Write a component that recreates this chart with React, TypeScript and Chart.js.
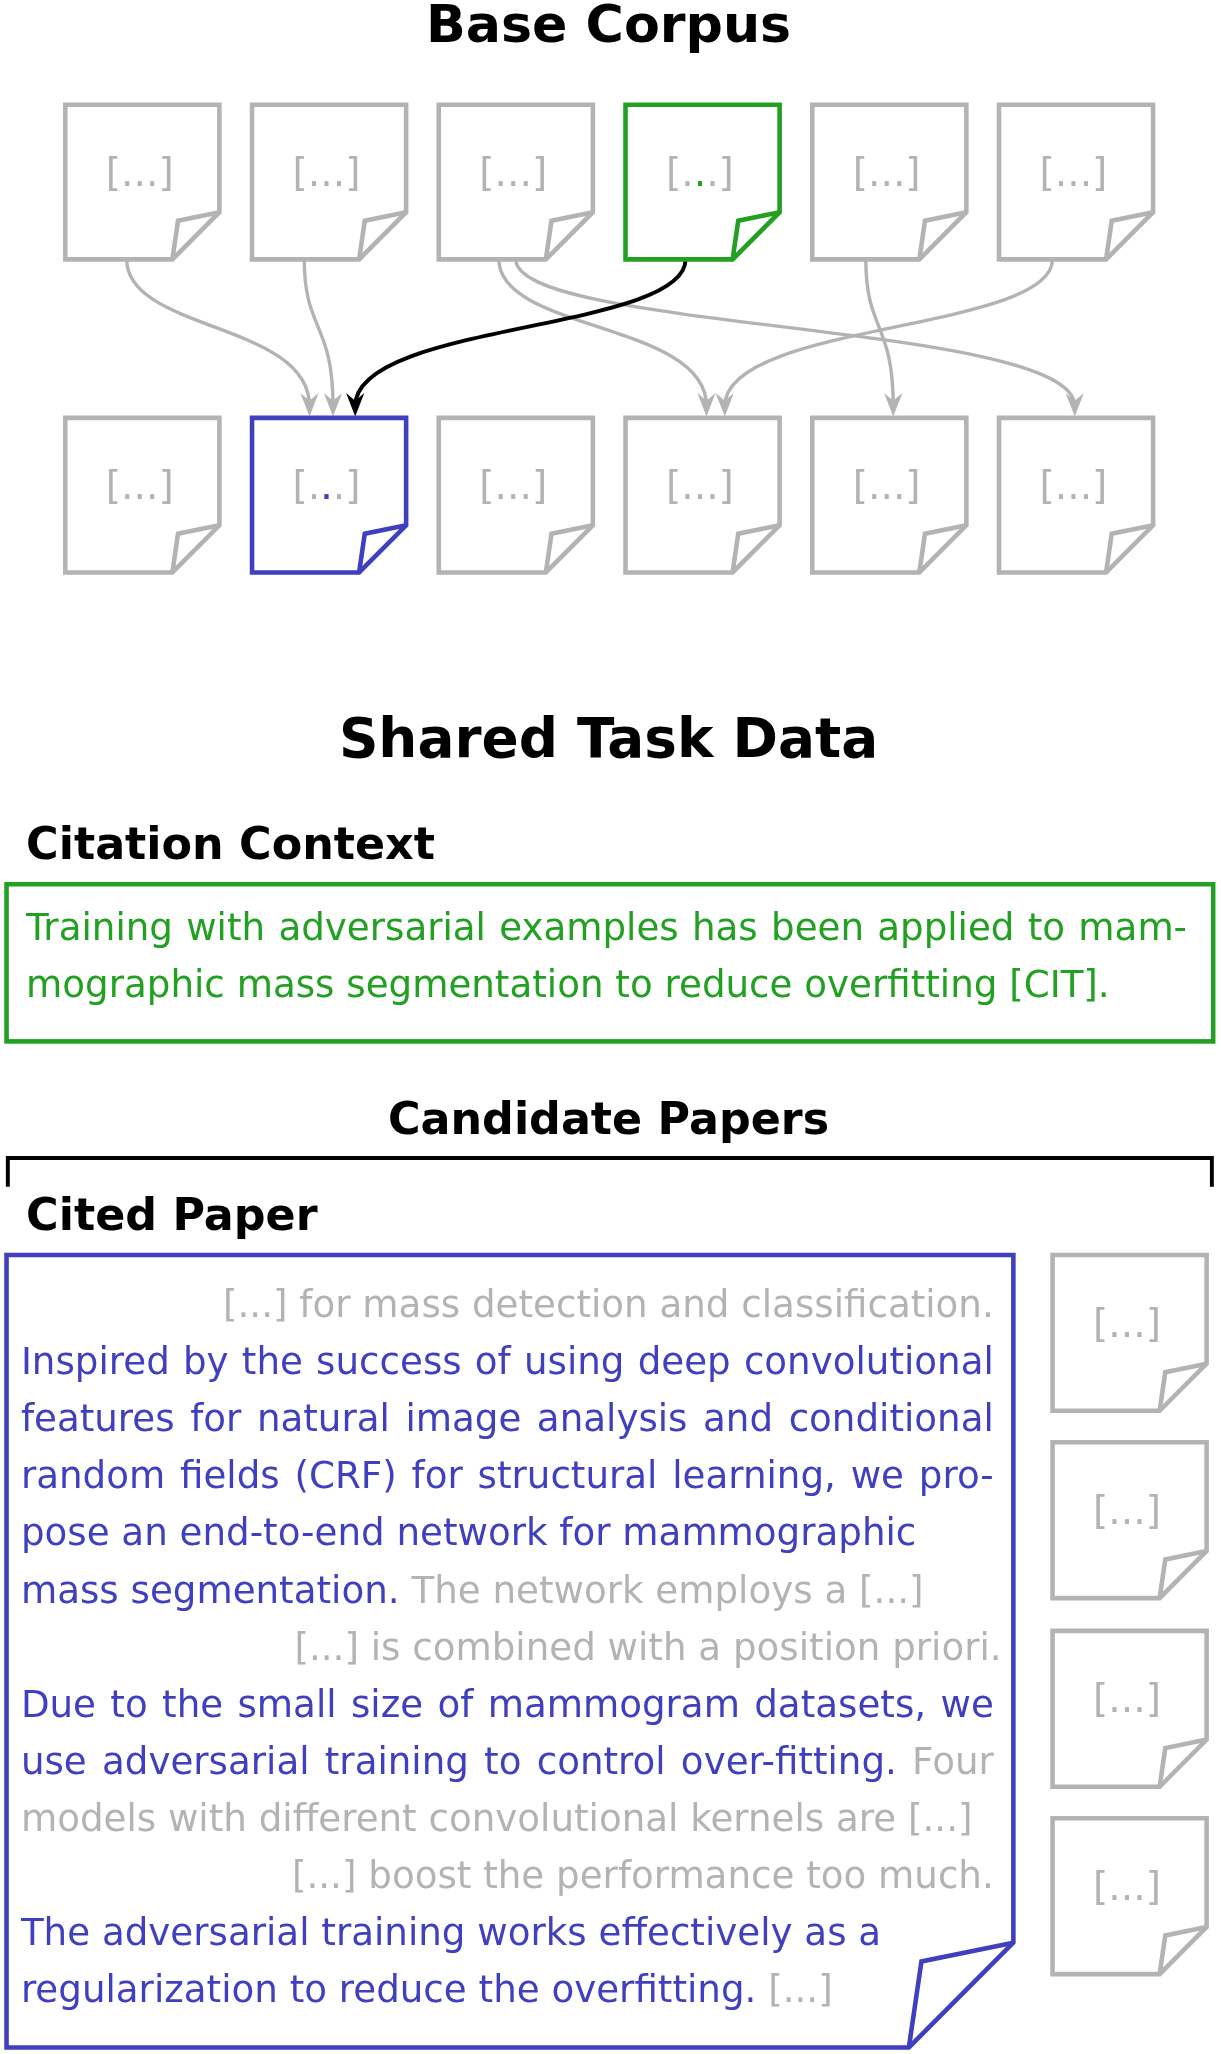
import React, { useEffect, useRef } from "react";
import { Chart, registerables } from "chart.js";
Chart.register(...registerables);

// diagram space: 935 x 1568 (scaled to canvas)
const GRAY = "#b3b3b3";
const GREEN = "#22a022";
const BLUE = "#3f3fbf";

const topDocX = [50, 193, 336, 479, 622, 765];
const topDocColors = [GRAY, GRAY, GRAY, GREEN, GRAY, GRAY];
const bottomDocX = [50, 193, 336, 479, 622, 765];
const bottomDocColors = [GRAY, BLUE, GRAY, GRAY, GRAY, GRAY];
const sideDocY = [958, 1101, 1245, 1388];

// arrows: [x1, x2, color]
const arrowFrom = [97, 233, 382, 395, 525, 663, 806];
const arrowTo = [237, 255, 541, 823, 272, 684, 555];
const arrowColor = [GRAY, GRAY, GRAY, GRAY, "#000", GRAY, GRAY];

type Seg = [string, string];
const contextLines: { segs: Seg[]; align: string }[] = [
  { segs: [["Training with adversarial examples has been applied to mam-", GREEN]], align: "justify" },
  { segs: [["mographic mass segmentation to reduce overfitting [CIT].", GREEN]], align: "left" },
];
const paperLines: { segs: Seg[]; align: string }[] = [
  { segs: [["[...] for mass detection and classification.", GRAY]], align: "right" },
  { segs: [["Inspired by the success of using deep convolutional", BLUE]], align: "justify" },
  { segs: [["features for natural image analysis and conditional", BLUE]], align: "justify" },
  { segs: [["random fields (CRF) for structural learning, we pro-", BLUE]], align: "justify" },
  { segs: [["pose an end-to-end network for mammographic", BLUE]], align: "left" },
  { segs: [["mass segmentation.", BLUE], ["The network employs a [...]", GRAY]], align: "left" },
  { segs: [["[...] is combined with a position priori.", GRAY]], align: "right2" },
  { segs: [["Due to the small size of mammogram datasets, we", BLUE]], align: "justify" },
  { segs: [["use adversarial training to control over-fitting.", BLUE], ["Four", GRAY]], align: "justify" },
  { segs: [["models with different convolutional kernels are [...]", GRAY]], align: "left" },
  { segs: [["[...] boost the performance too much.", GRAY]], align: "right" },
  { segs: [["The adversarial training works effectively as a", BLUE]], align: "left" },
  { segs: [["regularization to reduce the overfitting.", BLUE], ["[...]", GRAY]], align: "left" },
];

const FONT = "'DejaVu Sans', sans-serif";

export default function App() {
  const ref = useRef<HTMLCanvasElement>(null);
  useEffect(() => {
    document.body.style.margin = "0";
    const plugin = {
      id: "diagram",
      afterDatasetsDraw(chart: any) {
        const ctx: CanvasRenderingContext2D = chart.ctx;
        const xs = chart.scales.x, ys = chart.scales.y;
        const X = (v: number) => xs.getPixelForValue(v);
        const Y = (v: number) => ys.getPixelForValue(v);
        const s = (X(935) - X(0)) / 935;
        ctx.save();
        const font = (size: number, bold = false) =>
          (ctx.font = `${bold ? "bold " : ""}${size * s}px ${FONT}`);

        const doc = (x: number, y: number, w: number, h: number, f: number, col: string, inner: boolean) => {
          ctx.strokeStyle = col;
          ctx.lineWidth = 3.5 * s;
          ctx.lineJoin = "miter";
          ctx.beginPath();
          ctx.moveTo(X(x), Y(y));
          ctx.lineTo(X(x + w), Y(y));
          ctx.lineTo(X(x + w), Y(y + h - f));
          ctx.lineTo(X(x + w - f), Y(y + h));
          ctx.lineTo(X(x), Y(y + h));
          ctx.closePath();
          ctx.fillStyle = "#fff";
          ctx.fill();
          ctx.stroke();
          ctx.beginPath();
          ctx.moveTo(X(x + w - f), Y(y + h));
          ctx.lineTo(X(x + w - f + f * 0.12), Y(y + h - f * 0.82));
          ctx.lineTo(X(x + w), Y(y + h - f));
          ctx.stroke();
          if (inner) {
            font(30);
            ctx.fillStyle = GRAY;
            ctx.textAlign = "center";
            ctx.textBaseline = "middle";
            ctx.fillText("[...]", X(x + w / 2 - 2), Y(y + h / 2 - 5));
            if (col !== GRAY) {
              ctx.fillStyle = col;
              ctx.fillText(".", X(x + w / 2 - 2), Y(y + h / 2 - 5));
            }
          }
        };

        // arrows
        arrowFrom.forEach((x1, i) => {
          const x2 = arrowTo[i];
          const y1 = 198, y2 = 316;
          ctx.strokeStyle = arrowColor[i];
          ctx.lineWidth = (arrowColor[i] === "#000" ? 3 : 2.6) * s;
          ctx.beginPath();
          ctx.moveTo(X(x1), Y(y1));
          ctx.bezierCurveTo(X(x1), Y(y1 + 55), X(x2), Y(y2 - 70), X(x2), Y(y2 - 6));
          ctx.stroke();
          ctx.fillStyle = arrowColor[i];
          ctx.beginPath();
          ctx.moveTo(X(x2), Y(y2 + 2));
          ctx.lineTo(X(x2 - 7), Y(y2 - 16));
          ctx.lineTo(X(x2), Y(y2 - 10));
          ctx.lineTo(X(x2 + 7), Y(y2 - 16));
          ctx.closePath();
          ctx.fill();
        });

        topDocX.forEach((x, i) => doc(x, 80, 118, 118, 36, topDocColors[i], true));
        bottomDocX.forEach((x, i) => doc(x, 319, 118, 118, 36, bottomDocColors[i], true));
        sideDocY.forEach((y) => doc(806, y, 118, 119, 36, GRAY, true));

        // titles
        ctx.fillStyle = "#000";
        ctx.textBaseline = "middle";
        ctx.textAlign = "center";
        font(40, true);
        ctx.fillText("Base Corpus", X(466), Y(22));
        font(42, true);
        ctx.fillText("Shared Task Data", X(466), Y(567));
        font(34, true);
        ctx.fillText("Candidate Papers", X(466), Y(857));
        ctx.textAlign = "left";
        ctx.fillText("Citation Context", X(20), Y(647));
        ctx.fillText("Cited Paper", X(20), Y(930));

        // bracket
        ctx.strokeStyle = "#000";
        ctx.lineWidth = 3 * s;
        ctx.beginPath();
        ctx.moveTo(X(6), Y(906));
        ctx.lineTo(X(6), Y(884));
        ctx.lineTo(X(928), Y(884));
        ctx.lineTo(X(928), Y(906));
        ctx.stroke();

        // green box
        ctx.strokeStyle = GREEN;
        ctx.lineWidth = 3.5 * s;
        ctx.strokeRect(X(5), Y(675), X(929) - X(5), Y(795) - Y(675));

        // blue paper
        doc(5, 958, 771, 605, 80, BLUE, false);

        const drawLines = (lines: { segs: Seg[]; align: string }[], left: number, right: number, y0: number, lh: number) => {
          font(28.5);
          ctx.textAlign = "left";
          ctx.textBaseline = "middle";
          const space = ctx.measureText(" ").width;
          lines.forEach((ln, li) => {
            const y = Y(y0 + li * lh);
            const tokens: [string, string][] = [];
            ln.segs.forEach(([t, c]) => t.split(" ").forEach((w) => tokens.push([w, c])));
            const widths = tokens.map(([w]) => ctx.measureText(w).width);
            const total = widths.reduce((a, b) => a + b, 0);
            let gap = space;
            let x = X(left);
            const natural = total + space * (tokens.length - 1);
            if (ln.align === "justify") gap = (X(right) - X(left) - total) / (tokens.length - 1);
            else if (ln.align === "right") x = X(right) - natural;
            else if (ln.align === "right2") x = X(right + 6) - natural;
            tokens.forEach(([w, c], i) => {
              ctx.fillStyle = c;
              ctx.fillText(w, x, y);
              x += widths[i] + gap;
            });
          });
        };
        drawLines(contextLines, 20, 909, 710, 43.5);
        drawLines(paperLines, 16, 761, 998, 43.6);
        ctx.restore();
      },
    };
    const chart = new Chart(ref.current!, {
      type: "scatter",
      data: {
        datasets: [
          {
            data: topDocX.map((x) => ({ x: x + 59, y: 139 })),
            pointRadius: 0,
          },
        ],
      },
      options: {
        animation: false,
        responsive: false,
        layout: { padding: 0 },
        plugins: { legend: { display: false }, tooltip: { enabled: false } },
        scales: {
          x: { type: "linear", min: 0, max: 935, display: false },
          y: { type: "linear", min: 0, max: 1568, reverse: true, display: false },
        },
      },
      plugins: [plugin],
    });
    return () => chart.destroy();
  }, []);
  return <canvas ref={ref} width={1221} height={2054} style={{ display: "block" }} />;
}
